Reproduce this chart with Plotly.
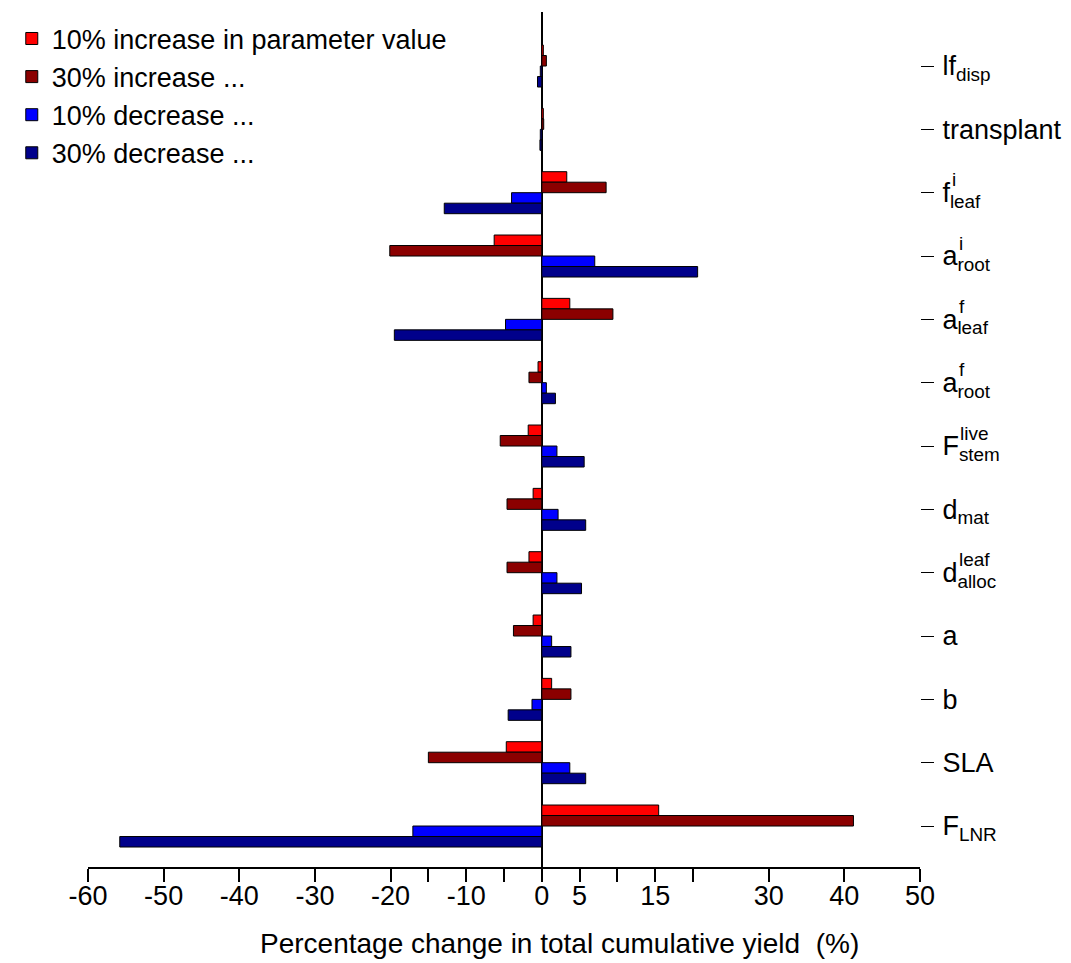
import plotly.graph_objects as go

# Parameters (top to bottom)
param_base = ["lf", "transplant", "f", "a", "a", "a", "F", "d", "d", "a", "b", "SLA", "F"]
param_sub = ["disp", "", "leaf", "root", "leaf", "root", "stem", "mat", "alloc", "", "", "", "LNR"]
param_sup = ["", "", "i", "i", "f", "f", "live", "", "leaf", "", "", "", ""]
param_keys = ["lf_disp", "transplant", "f_leaf_i", "a_root_i", "a_leaf_f", "a_root_f",
              "F_stem_live", "d_mat", "d_alloc_leaf", "a", "b", "SLA", "F_LNR"]

# Percentage change in total cumulative yield (%)
inc10 = [0.2, 0.2, 3.3, -6.3, 3.7, -0.5, -1.8, -1.15, -1.7, -1.15, 1.3, -4.7, 15.45]
inc30 = [0.6, 0.25, 8.5, -20.1, 9.4, -1.7, -5.5, -4.6, -4.6, -3.75, 3.85, -15.0, 41.2]
dec10 = [-0.2, -0.2, -4.0, 7.0, -4.8, 0.6, 2.0, 2.15, 2.0, 1.3, -1.3, 3.7, -17.05]
dec30 = [-0.57, -0.25, -12.9, 20.6, -19.5, 1.8, 5.6, 5.8, 5.25, 3.85, -4.45, 5.8, -55.8]

series_names = ["10% increase in parameter value", "30% increase ...",
                "10% decrease ...", "30% decrease ..."]
series_values = [inc10, inc30, dec10, dec30]
series_colors = ["#FF0000", "#8B0000", "#0000FF", "#00008B"]

x_tickvals = [-60, -50, -40, -30, -20, -15, -10, -5, 0, 5, 10, 15, 20, 30, 40, 50]
x_ticktext = ["-60", "-50", "-40", "-30", "-20", "", "-10", "", "0", "5", "", "15", "", "30", "40", "50"]
x_title = "Percentage change in total cumulative yield  (%)"

FONT = "Liberation Sans, Arial, sans-serif"
FS = 27

fig = go.Figure()
for name, vals, col in zip(series_names, series_values, series_colors):
    fig.add_trace(go.Bar(
        y=param_keys, x=vals, orientation="h", name=name,
        marker=dict(color=col, line=dict(color="black", width=1)),
    ))

ticktext = [b + (f"<sub>{s}</sub>" if s else "") for b, s in zip(param_base, param_sub)]

# superscripts stacked above subscripts
char_w = {"f": 0.278, "a": 0.556, "F": 0.611, "d": 0.556}
for key, b, sup in zip(param_keys, param_base, param_sup):
    if sup:
        fig.add_annotation(
            xref="paper", yref="y", x=1, y=key, xanchor="left", yanchor="middle",
            xshift=22 + char_w[b] * FS, yshift=13, showarrow=False,
            text=sup, font=dict(family=FONT, size=round(FS * 0.7), color="black"),
        )

# x-axis title
fig.add_annotation(
    xref="paper", yref="paper", x=0.5667, y=-0.0889, xanchor="center", yanchor="middle",
    showarrow=False, text=x_title, font=dict(family=FONT, size=28, color="black"),
)

fig.update_layout(
    width=1071, height=963,
    margin=dict(l=88, r=151, t=12, b=96, autoexpand=False),
    paper_bgcolor="white", plot_bgcolor="white",
    barmode="group", bargap=0.337, bargroupgap=0,
    font=dict(family=FONT, size=FS, color="black"),
    showlegend=True,
    legend=dict(
        xref="container", yref="container", x=0.011, y=0.985,
        xanchor="left", yanchor="top", bgcolor="rgba(0,0,0,0)",
        font=dict(family=FONT, size=FS, color="black"),
        traceorder="normal", tracegroupgap=0,
    ),
    xaxis=dict(
        range=[-60, 50], tickmode="array", tickvals=x_tickvals, ticktext=x_ticktext,
        showgrid=False, zeroline=True, zerolinecolor="black", zerolinewidth=1.5,
        showline=True, linecolor="black", linewidth=1.5,
        ticks="outside", ticklen=13, tickwidth=1.5, tickcolor="black",
        tickangle=0, automargin=False, ticklabelstandoff=-9,
        tickfont=dict(family=FONT, size=FS),
        fixedrange=True,
    ),
    yaxis=dict(
        type="category", categoryorder="array", categoryarray=param_keys,
        range=[12.647, -0.853], side="right", automargin=False,
        tickmode="array", tickvals=param_keys, ticktext=ticktext,
        showgrid=False, zeroline=False, showline=False,
        ticks="outside", ticklen=13, tickwidth=1, tickcolor="black",
        ticklabelstandoff=3,
        tickfont=dict(family=FONT, size=FS),
        fixedrange=True,
    ),
)

fig.write_html("out.html")
